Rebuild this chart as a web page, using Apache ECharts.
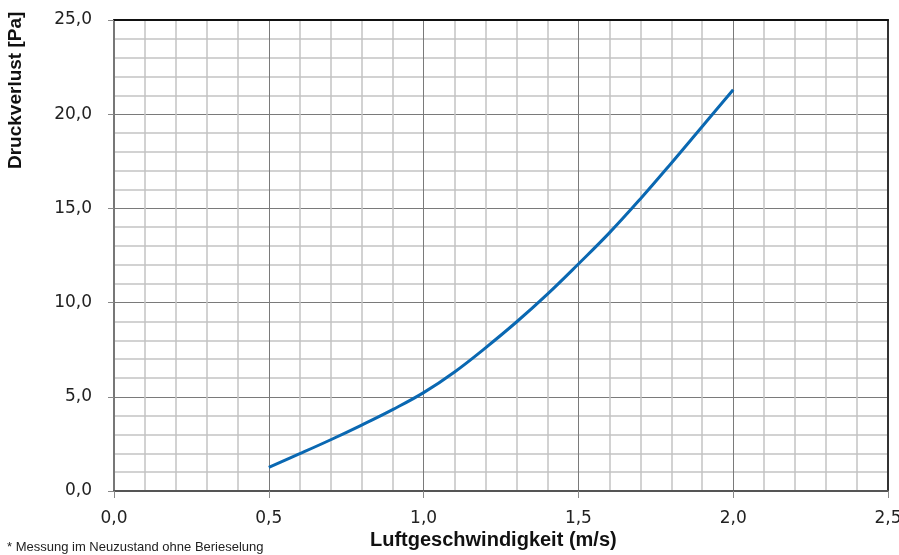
<!DOCTYPE html>
<html><head><meta charset="utf-8">
<script src="https://cdn.jsdelivr.net/npm/echarts@6/dist/echarts.min.js"></script>
<style>html,body{margin:0;padding:0;background:#fff}#c{width:899px;height:555px}</style>
</head><body><div id="c"></div>
<script>
const xValues = [0.5,0.6,0.7,0.8,0.9,1.0,1.1,1.2,1.3,1.4,1.5,1.6,1.7,1.8,1.9,2.0];
const pressureLoss = [1.26,1.98,2.72,3.5,4.32,5.22,6.32,7.6,8.97,10.45,12.05,13.7,15.5,17.4,19.35,21.3];
const xTitle = 'Luftgeschwindigkeit (m/s)';
const yTitle = 'Druckverlust [Pa]';
const footnote = '* Messung im Neuzustand ohne Berieselung';

const fmt = v => v.toFixed(1).replace('.', ',');
const font = '"Liberation Sans", Arial, sans-serif';
const tickFont = '"DejaVu Sans", sans-serif';
const chart = echarts.init(document.getElementById('c'));
chart.setOption({
  animation: false,
  grid: {left: 114, right: 11, top: 20, bottom: 64, containLabel: false, outerBoundsMode: 'none'},
  xAxis: [{
    type: 'value', min: 0, max: 2.5, interval: 0.5,
    axisLine: {show: true, onZero: false, lineStyle: {color: '#555', width: 2}},
    axisTick: {show: true, length: 7, lineStyle: {color: '#888', width: 1}},
    axisLabel: {formatter: fmt, color: '#222', fontSize: 17, fontFamily: tickFont, margin: 19},
    splitLine: {show: true, lineStyle: {color: '#7a7a7a', width: 1}},
    minorTick: {show: false, splitNumber: 5},
    minorSplitLine: {show: true, lineStyle: {color: '#c4c4c4', width: 1.5}}
  }, {
    type: 'value', position: 'top', min: 0, max: 2.5,
    axisLine: {show: true, onZero: false, lineStyle: {color: '#111', width: 2}},
    axisTick: {show: false}, axisLabel: {show: false}, splitLine: {show: false}
  }],
  yAxis: [{
    type: 'value', min: 0, max: 25, interval: 5,
    axisLine: {show: true, onZero: false, lineStyle: {color: '#777', width: 2}},
    axisTick: {show: true, length: 6, lineStyle: {color: '#888', width: 1}},
    axisLabel: {formatter: fmt, color: '#222', fontSize: 17, fontFamily: tickFont, margin: 22},
    splitLine: {show: true, lineStyle: {color: '#7a7a7a', width: 1}},
    minorTick: {show: false, splitNumber: 5},
    minorSplitLine: {show: true, lineStyle: {color: '#c4c4c4', width: 1.5}}
  }, {
    type: 'value', position: 'right', min: 0, max: 25,
    axisLine: {show: true, onZero: false, lineStyle: {color: '#333', width: 2}},
    axisTick: {show: false}, axisLabel: {show: false}, splitLine: {show: false}
  }],
  series: [{
    type: 'line', xAxisIndex: 0, yAxisIndex: 0,
    data: xValues.map((x, i) => [x, pressureLoss[i]]),
    smooth: 0.4, showSymbol: false,
    lineStyle: {color: '#0a68b2', width: 3}
  }],
  graphic: [
    {type: 'text', left: 7, top: 541, style: {text: footnote, font: '13px ' + font, fill: '#222'}},
    {type: 'text', left: 370, top: 530, style: {text: xTitle, font: 'bold 20px ' + font, fill: '#111'}},
    {type: 'text', x: 6, y: 169, rotation: Math.PI / 2, style: {text: yTitle, font: 'bold 19px ' + font, fill: '#111', textVerticalAlign: 'top'}}
  ]
});
</script></body></html>
